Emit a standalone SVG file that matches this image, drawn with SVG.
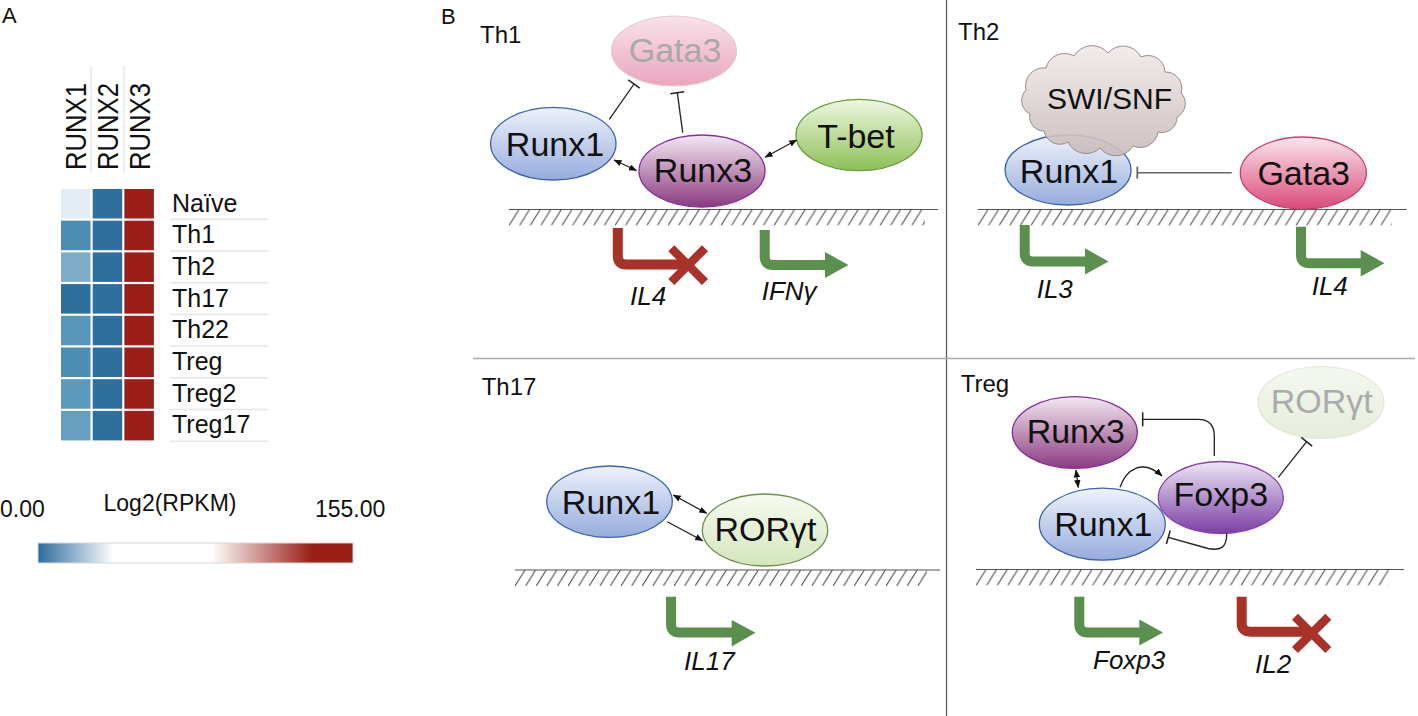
<svg xmlns="http://www.w3.org/2000/svg" width="1418" height="716" viewBox="0 0 1418 716">
<defs>
<style>
.lbl{font-family:"Liberation Sans",Arial,sans-serif;fill:#111}
.panel{font-family:"Liberation Sans",Arial,sans-serif;font-size:24px;fill:#111}
.node{font-family:"Liberation Sans",Arial,sans-serif;font-size:34px;fill:#111;text-anchor:middle}
.gene{font-family:"Liberation Sans",Arial,sans-serif;font-size:26px;font-style:italic;fill:#111}
.row{font-family:"Liberation Sans",Arial,sans-serif;font-size:25px;fill:#111}
.col{font-family:"Liberation Sans",Arial,sans-serif;font-size:29px;fill:#111}
.sep{stroke:#e6e6e6;stroke-width:1.5}
.dna{stroke:#555;stroke-width:1.2}
.conn{fill:none;stroke:#222;stroke-width:1.3}
.red{fill:none;stroke:#a8322a;stroke-width:10}
.grn{fill:none;stroke:#5a8f4e;stroke-width:10}
</style>
<linearGradient id="gBlue" x1="0" y1="0" x2="0" y2="1"><stop offset="0" stop-color="#eef2fb"/><stop offset="1" stop-color="#97acdd"/></linearGradient>
<linearGradient id="gRunx3" x1="0" y1="0" x2="0" y2="1"><stop offset="0" stop-color="#f4e8f2"/><stop offset="1" stop-color="#8b3a80"/></linearGradient>
<linearGradient id="gFoxp3" x1="0" y1="0" x2="0" y2="1"><stop offset="0" stop-color="#eee6f5"/><stop offset="1" stop-color="#7b3fa6"/></linearGradient>
<linearGradient id="gTbet" x1="0" y1="0" x2="0" y2="1"><stop offset="0" stop-color="#eff7e2"/><stop offset="1" stop-color="#8dc056"/></linearGradient>
<linearGradient id="gGata" x1="0" y1="0" x2="0" y2="1"><stop offset="0" stop-color="#fbe6ee"/><stop offset="1" stop-color="#da4a7a"/></linearGradient>
<linearGradient id="gGataF" x1="0" y1="0" x2="0" y2="1"><stop offset="0" stop-color="#f9e2ea"/><stop offset="1" stop-color="#eaa5bf"/></linearGradient>
<linearGradient id="gRor" x1="0" y1="0" x2="0" y2="1"><stop offset="0" stop-color="#f7fbf0"/><stop offset="1" stop-color="#d4e6bc"/></linearGradient>
<linearGradient id="gRorF" x1="0" y1="0" x2="0" y2="1"><stop offset="0" stop-color="#f5f8f0"/><stop offset="1" stop-color="#e6eddc"/></linearGradient>
<linearGradient id="gCloud" x1="0" y1="0" x2="0" y2="1"><stop offset="0" stop-color="#f2eaea"/><stop offset="1" stop-color="#c8baba"/></linearGradient>
<linearGradient id="gBar" x1="0" y1="0" x2="1" y2="0"><stop offset="0" stop-color="#2e6c9c"/><stop offset="0.24" stop-color="#ffffff"/><stop offset="0.55" stop-color="#ffffff"/><stop offset="0.87" stop-color="#9a1f17"/><stop offset="1" stop-color="#9a1f17"/></linearGradient>
<pattern id="h1" patternUnits="userSpaceOnUse" x="509" y="209.5" width="10.6" height="16"><line x1="10" y1="0" x2="0" y2="16" stroke="#444" stroke-width="1"/></pattern>
<pattern id="h2" patternUnits="userSpaceOnUse" x="978" y="209.5" width="10.6" height="16"><line x1="10" y1="0" x2="0" y2="16" stroke="#444" stroke-width="1"/></pattern>
<pattern id="h3" patternUnits="userSpaceOnUse" x="515" y="570" width="10.6" height="16"><line x1="10" y1="0" x2="0" y2="16" stroke="#444" stroke-width="1"/></pattern>
<pattern id="h4" patternUnits="userSpaceOnUse" x="976" y="569.5" width="10.6" height="16"><line x1="10" y1="0" x2="0" y2="16" stroke="#444" stroke-width="1"/></pattern>
<marker id="ah" markerUnits="userSpaceOnUse" markerWidth="8" markerHeight="8" viewBox="0 0 8 8" refX="7.5" refY="4" orient="auto-start-reverse"><path d="M0,0.8 L8,4 L0,7.2 z" fill="#111"/></marker>
<marker id="tb" markerUnits="userSpaceOnUse" markerWidth="4" markerHeight="16" viewBox="0 0 4 16" refX="2" refY="8" orient="auto"><path d="M2,1 V15" stroke="#222" stroke-width="1.5"/></marker>
<marker id="tbg" markerUnits="userSpaceOnUse" markerWidth="4" markerHeight="16" viewBox="0 0 4 16" refX="2" refY="8" orient="auto"><path d="M2,2 V14" stroke="#666" stroke-width="1.8"/></marker>
</defs>

<rect width="1418" height="716" fill="#fff"/>

<!-- Panel A: heatmap -->
<g id="panelA">
<text class="lbl" x="2" y="23" font-size="22">A</text>
<g id="colheaders">
<line x1="91" y1="66" x2="91" y2="173" stroke="#ddd" stroke-width="1"/>
<line x1="124" y1="66" x2="124" y2="173" stroke="#ddd" stroke-width="1"/>
<text class="col" transform="translate(86,170) rotate(-90)" textLength="87" lengthAdjust="spacingAndGlyphs">RUNX1</text>
<text class="col" transform="translate(118.3,170) rotate(-90)" textLength="87" lengthAdjust="spacingAndGlyphs">RUNX2</text>
<text class="col" transform="translate(149.5,170) rotate(-90)" textLength="87" lengthAdjust="spacingAndGlyphs">RUNX3</text>
</g>
<g id="cells">
<rect x="61" y="189" width="29.5" height="29.5" fill="#e4edf3"/>
<rect x="61" y="220.7" width="29.5" height="29.5" fill="#4d8db3"/>
<rect x="61" y="252.4" width="29.5" height="29.5" fill="#7eadc8"/>
<rect x="61" y="284.1" width="29.5" height="29.5" fill="#2e6f9e"/>
<rect x="61" y="315.8" width="29.5" height="29.5" fill="#5896ba"/>
<rect x="61" y="347.5" width="29.5" height="29.5" fill="#4e8db4"/>
<rect x="61" y="379.2" width="29.5" height="29.5" fill="#5e9abd"/>
<rect x="61" y="410.9" width="29.5" height="29.5" fill="#689fc0"/>
<g fill="#2f6f9e">
<rect x="92.7" y="189" width="29.5" height="29.5"/>
<rect x="92.7" y="220.7" width="29.5" height="29.5"/>
<rect x="92.7" y="252.4" width="29.5" height="29.5"/>
<rect x="92.7" y="284.1" width="29.5" height="29.5"/>
<rect x="92.7" y="315.8" width="29.5" height="29.5"/>
<rect x="92.7" y="347.5" width="29.5" height="29.5"/>
<rect x="92.7" y="379.2" width="29.5" height="29.5"/>
<rect x="92.7" y="410.9" width="29.5" height="29.5"/>
</g>
<g fill="#9b1f18">
<rect x="124.4" y="189" width="29.5" height="29.5"/>
<rect x="124.4" y="220.7" width="29.5" height="29.5"/>
<rect x="124.4" y="252.4" width="29.5" height="29.5"/>
<rect x="124.4" y="284.1" width="29.5" height="29.5"/>
<rect x="124.4" y="315.8" width="29.5" height="29.5"/>
<rect x="124.4" y="347.5" width="29.5" height="29.5"/>
<rect x="124.4" y="379.2" width="29.5" height="29.5"/>
<rect x="124.4" y="410.9" width="29.5" height="29.5"/>
</g>
</g>
<g id="rowlabels">
<line class="sep" x1="170" y1="219.3" x2="268" y2="219.3"/>
<line class="sep" x1="170" y1="251" x2="268" y2="251"/>
<line class="sep" x1="170" y1="282.7" x2="268" y2="282.7"/>
<line class="sep" x1="170" y1="314.4" x2="268" y2="314.4"/>
<line class="sep" x1="170" y1="346.1" x2="268" y2="346.1"/>
<line class="sep" x1="170" y1="377.8" x2="268" y2="377.8"/>
<line class="sep" x1="170" y1="409.5" x2="268" y2="409.5"/>
<line class="sep" x1="170" y1="441.2" x2="268" y2="441.2"/>
<text class="row" x="172" y="211.7">Naïve</text>
<text class="row" x="172" y="243.4">Th1</text>
<text class="row" x="172" y="275">Th2</text>
<text class="row" x="172" y="306.7">Th17</text>
<text class="row" x="172" y="338.4">Th22</text>
<text class="row" x="172" y="370">Treg</text>
<text class="row" x="172" y="401.7">Treg2</text>
<text class="row" x="172" y="433.4">Treg17</text>
</g>
<g id="legend">
<text class="lbl" x="170" y="511" font-size="23" text-anchor="middle">Log2(RPKM)</text>
<text class="lbl" x="0" y="517" font-size="23">0.00</text>
<text class="lbl" x="315" y="517" font-size="23">155.00</text>
<rect x="38" y="543" width="315" height="20" fill="url(#gBar)" stroke="#d8d8d8" stroke-width="1"/>
</g>
</g>

<!-- Panel B frame -->
<g id="frame">
<text class="lbl" x="441" y="24" font-size="22">B</text>
<line x1="946.5" y1="0" x2="946.5" y2="716" stroke="#555" stroke-width="1.2"/>
<line x1="473" y1="358.5" x2="1415" y2="358.5" stroke="#aaa" stroke-width="1.5"/>
<text class="panel" x="480" y="43">Th1</text>
<text class="panel" x="958" y="40">Th2</text>
<text class="panel" x="481.7" y="395">Th17</text>
<text class="panel" x="960.7" y="391.7">Treg</text>
</g>

<!-- DNA -->
<g id="dna">
<line class="dna" x1="509" y1="209.5" x2="938" y2="209.5"/>
<rect x="509" y="209.5" width="416" height="16" fill="url(#h1)"/>
<line class="dna" x1="978" y1="209.5" x2="1406.7" y2="209.5"/>
<rect x="978" y="209.5" width="414" height="16" fill="url(#h2)"/>
<line class="dna" x1="515" y1="570" x2="940" y2="570"/>
<rect x="515" y="570" width="412" height="16" fill="url(#h3)"/>
<line class="dna" x1="976" y1="569.5" x2="1404" y2="569.5"/>
<rect x="976" y="569.5" width="413" height="16" fill="url(#h4)"/>
</g>

<!-- Genes -->
<g id="gene-th1-il4">
<path class="red" d="M617.8,228 V256 Q617.8,264.5 626.3,264.5 H688"/>
<path d="M671.3,248.3 L705,282 M705,248.3 L671.3,282" stroke="#a8322a" stroke-width="8.5" fill="none"/>
<text class="gene" x="630" y="305">IL4</text>
</g>
<g id="gene-th1-ifng">
<path class="grn" d="M764.7,230 V256.5 Q764.7,265 773.2,265 H826"/>
<polygon points="825,252 848.5,265 825,278" fill="#5a8f4e"/>
<text class="gene" x="761.7" y="300">IFNγ</text>
</g>
<g id="gene-th2-il3">
<path class="grn" d="M1024.7,225 V253 Q1024.7,261.5 1033.2,261.5 H1086"/>
<polygon points="1085,248.3 1108.5,261.5 1085,274.5" fill="#5a8f4e"/>
<text class="gene" x="1036.7" y="297.7">IL3</text>
</g>
<g id="gene-th2-il4">
<path class="grn" d="M1301,226.7 V255 Q1301,263.3 1309.5,263.3 H1362"/>
<polygon points="1360.7,250 1384.5,263.3 1360.7,276.5" fill="#5a8f4e"/>
<text class="gene" x="1311.7" y="295">IL4</text>
</g>
<g id="gene-th17-il17">
<path class="grn" d="M671,596.7 V624 Q671,632.5 679.5,632.5 H733"/>
<polygon points="731.7,620 755.5,632.7 731.7,646.5" fill="#5a8f4e"/>
<text class="gene" x="684" y="670">IL17</text>
</g>
<g id="gene-treg-foxp3">
<path class="grn" d="M1079.3,596.7 V624 Q1079.3,632.5 1087.8,632.5 H1140"/>
<polygon points="1139.3,619.5 1163,632.5 1139.3,645.5" fill="#5a8f4e"/>
<text class="gene" x="1093" y="669.3">Foxp3</text>
</g>
<g id="gene-treg-il2">
<path class="red" d="M1241.7,596.7 V623.2 Q1241.7,631.7 1250.2,631.7 H1311"/>
<path d="M1295,616.7 L1328.3,650 M1328.3,616.7 L1295,650" stroke="#a8322a" stroke-width="8.5" fill="none"/>
<text class="gene" x="1255" y="673.3">IL2</text>
</g>

<!-- Th1 nodes -->
<g id="th1-gata3">
<ellipse cx="674" cy="51" rx="62.5" ry="35" fill="url(#gGataF)" stroke="#e2ccd4" stroke-width="1.2"/>
<text class="node" x="675" y="62" fill="#a8a8a8" style="fill:#a8a8a8">Gata3</text>
</g>
<g id="th1-runx1">
<ellipse cx="553.3" cy="143.7" rx="62.7" ry="36.3" fill="url(#gBlue)" stroke="#3e63ad" stroke-width="1.3"/>
<text class="node" x="555" y="156">Runx1</text>
</g>
<g id="th1-runx3">
<ellipse cx="702" cy="171" rx="63" ry="36" fill="url(#gRunx3)" stroke="#86309a" stroke-width="1.3"/>
<text class="node" x="703" y="182">Runx3</text>
</g>
<g id="th1-tbet">
<ellipse cx="859" cy="135" rx="63" ry="35.7" fill="url(#gTbet)" stroke="#6d9c3d" stroke-width="1.3"/>
<text class="node" x="856" y="148">T-bet</text>
</g>

<!-- Th2 nodes -->
<g id="th2-runx1">
<ellipse cx="1068" cy="170" rx="63" ry="35" fill="url(#gBlue)" stroke="#3e63ad" stroke-width="1.3"/>
<text class="node" x="1069" y="183">Runx1</text>
</g>
<g id="th2-swisnf">
<path d="M1030,114 A15,15 0 0 1 1026,90 A18,18 0 0 1 1046,68 A19,19 0 0 1 1074,56 A21,21 0 0 1 1108,53 A20,20 0 0 1 1141,57 A17,17 0 0 1 1165,72 A16,16 0 0 1 1181,93 A15,15 0 0 1 1177,117 A15,15 0 0 1 1158,132 A18,18 0 0 1 1133,146 A20,20 0 0 1 1100,148 A20,20 0 0 1 1068,142 A16,16 0 0 1 1044,131 A14,14 0 0 1 1030,114 Z" fill="url(#gCloud)" fill-opacity="0.9" stroke="#9a8c8c" stroke-width="1"/>
<text class="node" x="1109.5" y="109" style="font-size:30px">SWI/SNF</text>
</g>
<g id="th2-gata3">
<ellipse cx="1303.3" cy="173" rx="63" ry="36" fill="url(#gGata)" stroke="#c8406e" stroke-width="1.3"/>
<text class="node" x="1303.7" y="185">Gata3</text>
</g>

<!-- Th17 nodes -->
<g id="th17-runx1">
<ellipse cx="609.5" cy="501.7" rx="62.8" ry="35.7" fill="url(#gBlue)" stroke="#3e63ad" stroke-width="1.3"/>
<text class="node" x="611" y="514">Runx1</text>
</g>
<g id="th17-rorgt">
<ellipse cx="765" cy="530" rx="62.7" ry="36" fill="url(#gRor)" stroke="#6f8f4f" stroke-width="1.3"/>
<text class="node" x="765.5" y="541">RORγt</text>
</g>

<!-- Treg nodes -->
<g id="treg-runx3">
<ellipse cx="1074.8" cy="432.5" rx="62.5" ry="35.8" fill="url(#gRunx3)" stroke="#86309a" stroke-width="1.3"/>
<text class="node" x="1075.8" y="443">Runx3</text>
</g>
<g id="treg-rorgt">
<ellipse cx="1321" cy="402.5" rx="63" ry="36" fill="url(#gRorF)" stroke="#e0e8d6" stroke-width="1.2"/>
<text class="node" x="1321.7" y="413" style="fill:#ababab">RORγt</text>
</g>
<g id="treg-runx1">
<ellipse cx="1102.3" cy="524.2" rx="63" ry="36" fill="url(#gBlue)" stroke="#3e63ad" stroke-width="1.3"/>
<text class="node" x="1103.3" y="536">Runx1</text>
</g>
<g id="treg-foxp3">
<ellipse cx="1220.8" cy="497.5" rx="62.5" ry="36" fill="url(#gFoxp3)" stroke="#8a3fb0" stroke-width="1.3"/>
<text class="node" x="1220.8" y="506">Foxp3</text>
</g>

<!-- Connectors -->
<g id="connectors">
<line class="conn" x1="609.3" y1="119.3" x2="634" y2="84" marker-end="url(#tb)"/>
<line class="conn" x1="682.7" y1="132.7" x2="677.3" y2="92.7" marker-end="url(#tb)"/>
<line class="conn" x1="614" y1="160" x2="636.5" y2="170.5" marker-start="url(#ah)" marker-end="url(#ah)"/>
<line class="conn" x1="765" y1="157.3" x2="796.7" y2="140" marker-start="url(#ah)" marker-end="url(#ah)"/>
<line x1="1231.7" y1="172.7" x2="1137.3" y2="172.7" stroke="#666" stroke-width="1.5" marker-end="url(#tbg)"/>
<line class="conn" x1="673.3" y1="495" x2="706.7" y2="513.3" marker-start="url(#ah)" marker-end="url(#ah)"/>
<line class="conn" x1="667.3" y1="521.7" x2="702.7" y2="540.7" marker-end="url(#ah)"/>
<line class="conn" x1="1076" y1="470" x2="1078.3" y2="487.5" marker-start="url(#ah)" marker-end="url(#ah)"/>
<path class="conn" d="M1120,487.3 C1126,470 1142,458 1162,476" marker-end="url(#ah)"/>
<path class="conn" d="M1214.3,456 V436 Q1214.3,419.3 1198,419.3 H1142.7" marker-end="url(#tb)"/>
<path class="conn" d="M1226.7,533.3 C1227,548 1220,551 1208,548.5 L1168.3,537.3" marker-end="url(#tb)"/>
<line class="conn" x1="1278.3" y1="477.3" x2="1306.7" y2="441.7" marker-end="url(#tb)"/>
</g>
</svg>
